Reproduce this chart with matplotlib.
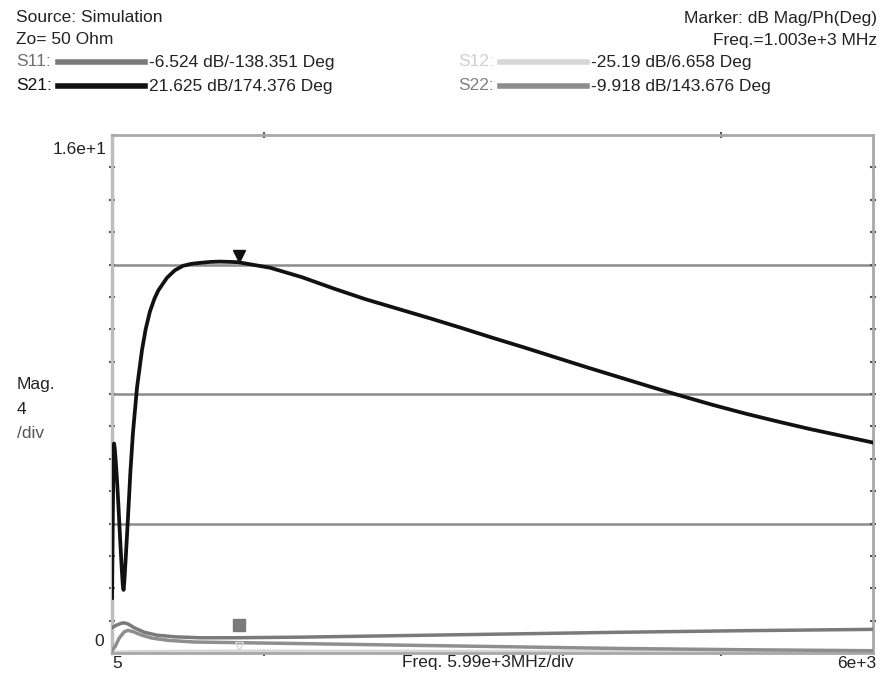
import matplotlib.pyplot as plt
from matplotlib.ticker import FixedLocator

# Frequencies in MHz, magnitudes linear (Mag. 4 /div)
s21_freq = [5, 12, 17, 21, 26, 35, 45, 55, 68, 81, 90, 96, 102, 112, 131, 150, 170, 202,
            241, 270, 304, 340, 370, 438, 500, 564, 630, 698, 780, 856, 940, 1000,
            1250, 1500, 1750, 2000, 2250, 2500, 2750, 3000, 3250, 3500, 3750, 4000,
            4250, 4500, 4750, 5000, 5250, 5500, 5750, 6000]
s21_mag = [1.7, 4.5, 6.1, 6.47, 6.35, 5.9, 5.3, 4.6, 3.6, 2.65, 2.1, 1.95, 2.2, 2.85,
           4.19, 5.6, 6.8, 8.2, 9.35, 10.0, 10.55, 10.95, 11.2, 11.59, 11.82, 11.96,
           12.02, 12.05, 12.08, 12.09, 12.08, 12.07, 11.90, 11.61, 11.26, 10.93, 10.64,
           10.35, 10.05, 9.74, 9.44, 9.13, 8.82, 8.52, 8.22, 7.93, 7.65, 7.39, 7.15,
           6.92, 6.71, 6.50]

s11_freq = [5, 40, 80, 100, 130, 180, 260, 360, 500, 700, 1003, 1500, 2000, 2500, 3000,
            3500, 4000, 4500, 5000, 5500, 6000]
s11_mag = [0.78, 0.86, 0.92, 0.93, 0.9, 0.78, 0.64, 0.55, 0.5, 0.47, 0.472, 0.49, 0.52,
           0.55, 0.58, 0.61, 0.64, 0.665, 0.69, 0.71, 0.73]

s22_freq = [5, 30, 60, 100, 130, 170, 240, 320, 450, 650, 1003, 1500, 2000, 2500, 3000,
            3500, 4000, 4500, 5000, 5500, 6000]
s22_mag = [0.08, 0.2, 0.45, 0.65, 0.7, 0.66, 0.55, 0.46, 0.39, 0.34, 0.319, 0.29, 0.26,
           0.23, 0.20, 0.17, 0.14, 0.12, 0.10, 0.085, 0.07]

s12_freq = [5, 200, 600, 1003, 2000, 3000, 4000, 5000, 6000]
s12_mag = [0.02, 0.04, 0.05, 0.055, 0.05, 0.045, 0.04, 0.035, 0.03]

marker_freq = 1003
marker_s21 = 12.06
marker_s11 = 0.472
marker_s12 = 0.055

W, H = 881, 679
fig = plt.figure(figsize=(W / 100, H / 100), dpi=100)
plt.rcParams['font.family'] = ['Liberation Sans', 'DejaVu Sans']


def px(x, y):
    return x / W, 1 - y / H


ax = fig.add_axes([112 / W, 1 - 653 / H, 761 / W, 518 / H])
ax.set_xlim(5, 6000)
ax.set_ylim(0, 16)

for g in [4, 8, 12]:
    ax.axhline(g, color='#8c8c8c', lw=1.8, zorder=1)

ax.plot(s12_freq, s12_mag, color='#d6d6d6', lw=2.5, zorder=2)
ax.plot(s22_freq, s22_mag, color='#8e8e8e', lw=2.5, zorder=3)
ax.plot(s11_freq, s11_mag, color='#7a7a7a', lw=2.5, zorder=4)
ax.plot(s21_freq, s21_mag, color='#111111', lw=2.7, zorder=5,
        solid_joinstyle='round')

# markers
ax.plot([marker_freq], [marker_s21 + 0.2], marker='v', ms=9, color='#111111', zorder=6)
ax.plot([marker_freq], [marker_s11 + 0.4], marker='s', ms=8, color='#7a7a7a', zorder=6)
ax.plot([marker_freq], [marker_s12 + 0.15], marker='v', ms=6, mfc='none', mec='#d6d6d6',
        zorder=6)

for side in ['top', 'right', 'bottom']:
    ax.spines[side].set_color('#a8a8a8')
    ax.spines[side].set_linewidth(2)
ax.spines['left'].set_color('#bdbdbd')
ax.spines['left'].set_linewidth(2.5)

ax.yaxis.set_major_locator(FixedLocator(list(range(1, 16))))
ax.xaxis.set_major_locator(FixedLocator([5 + 0.2 * 5995, 5 + 0.8 * 5995]))
ax.tick_params(axis='both', direction='inout', length=4, width=1.5, color='#555555',
               labelleft=False, labelbottom=False, left=True, right=True,
               top=True, bottom=True)

# header text
fs = 12.5
fig.text(*px(16, 18), 'Source: Simulation', fontsize=fs, va='center', color='#222222')
fig.text(*px(16, 40), 'Zo= 50 Ohm', fontsize=fs, va='center', color='#222222')
fig.text(*px(877, 18), 'Marker: dB Mag/Ph(Deg)', fontsize=fs, va='center', ha='right',
         color='#222222')
fig.text(*px(877, 40), 'Freq.=1.003e+3 MHz', fontsize=fs, va='center', ha='right',
         color='#222222')

legend_rows = [
    (16, 62, 'S11:', '#707070', '#7a7a7a', '-6.524 dB/-138.351 Deg'),
    (16, 86, 'S21:', '#111111', '#111111', '21.625 dB/174.376 Deg'),
    (458, 62, 'S12:', '#cfcfcf', '#d6d6d6', '-25.19 dB/6.658 Deg'),
    (458, 86, 'S22:', '#808080', '#8e8e8e', '-9.918 dB/143.676 Deg'),
]
for x0, y0, name, tcol, lcol, val in legend_rows:
    fig.text(*px(x0, y0), name, fontsize=fs, va='center', color=tcol)
    fig.add_artist(plt.Line2D([(x0 + 42) / W, (x0 + 129) / W], [1 - y0 / H] * 2,
                              color=lcol, lw=4))
    fig.text(*px(x0 + 133, y0), val, fontsize=fs, va='center', color='#222222')

# axis labels
fig.text(*px(106, 149), '1.6e+1', fontsize=fs, va='center', ha='right', color='#222222')
fig.text(*px(104, 641), '0', fontsize=fs, va='center', ha='right', color='#222222')
fig.text(*px(17, 384), 'Mag.', fontsize=fs, va='center', color='#222222')
fig.text(*px(17, 410), '4', fontsize=fs, va='center', color='#222222')
fig.text(*px(17, 433), '/div', fontsize=fs, va='center', color='#555555')
fig.text(*px(117, 663), '5', fontsize=fs, va='center', ha='center', color='#222222')
fig.text(*px(402, 663), 'Freq. 5.99e+3MHz/div', fontsize=fs, va='center', color='#222222')
fig.text(*px(876, 663), '6e+3', fontsize=fs, va='center', ha='right', color='#222222')

fig.savefig('out.png', dpi=100)
